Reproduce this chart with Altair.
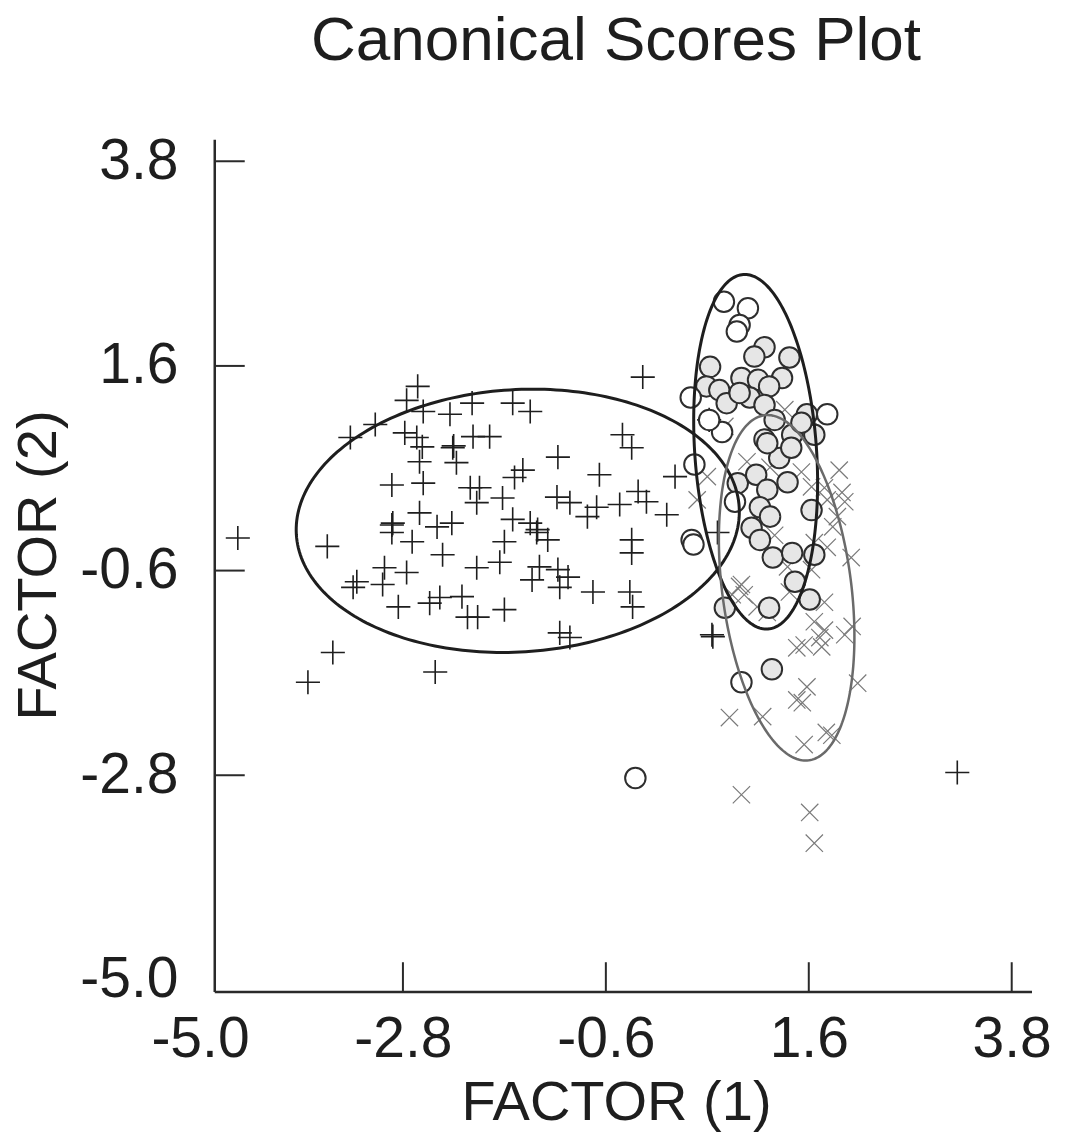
import altair as alt
import numpy as np
import pandas as pd

FONT = "Liberation Sans"
INK = "#1e1e1e"

# ---- data ----
TICKS = [-5.0, -2.8, -0.6, 1.6, 3.8]
INNER_TICKS = [-2.8, -0.6, 1.6, 3.8]

plus_x = [-2.64, -2.76, -2.58, -2.29, -2.05, -3.10, -3.37, -2.78, -2.65, -2.59,
          -2.26, -2.22, -2.62, -2.04, -2.92, -2.58, -2.07, -2.00, -2.62, -2.92,
          -2.92, -2.43, -2.27, -2.70, -3.62, -2.37, -2.00, -3.00, -2.76, -3.30,
          -3.34, -3.02, -2.85, -2.51, -2.40, -2.16, -2.10, -1.99, -4.59, -3.56,
          -3.83, -2.45, -0.20, -1.61, -1.42, -1.86, -0.42, -0.32, -1.12, -1.59,
          -1.50, -0.67, 0.15, -1.97, -1.72, -1.13, -0.99, -0.80, -0.70, -0.45,
          -0.25, -0.16, 0.06, -1.61, -1.42, -1.35, -1.23, -1.70, -0.32, -0.32,
          -1.75, -1.32, -1.40, -1.12, -1.01, -1.10, -0.74, -0.34, -0.31, -1.70,
          -1.10, -0.99, 0.55, 0.52, 0.61, 3.21, -2.25, -2.91, -1.34, 0.56]
plus_y = [1.38, 1.23, 1.11, 1.08, 1.20, 0.97, 0.83, 0.88, 0.83, 0.73,
          0.72, 0.56, 0.57, 0.84, 0.32, 0.34, 0.29, 0.13, 0.02, -0.11,
          -0.19, -0.13, -0.09, -0.29, -0.34, -0.43, -0.57, -0.57, -0.62, -0.72,
          -0.78, -0.75, -0.99, -0.95, -0.89, -0.88, -1.10, -1.10, -0.25, -1.48,
          -1.80, -1.69, 1.48, 1.20, 1.11, 0.84, 0.86, 0.72, 0.62, 0.40,
          0.48, 0.43, 0.41, 0.29, 0.18, 0.19, 0.13, -0.02, 0.08, 0.11,
          0.25, 0.14, 0.00, -0.05, -0.09, -0.19, -0.27, -0.29, -0.27, -0.41,
          -0.51, -0.56, -0.70, -0.59, -0.67, -0.78, -0.83, -0.83, -0.99, -1.02,
          -1.27, -1.32, -1.29, 1.02, -0.19, -2.77, 0.74, -0.09, -0.16, -1.31]

circ_x = [1.12, 1.01, 1.39, 0.53, 0.87, 1.05, 1.31, 0.49, 0.63, 1.17,
          0.96, 0.71, 1.12, 0.85, 1.23, 1.58, 1.12, 1.42, 1.66, 1.52,
          1.28, 1.41, 1.15, 0.83, 1.03, 1.15, 1.37, 1.63, 1.07, 1.18,
          0.98, 1.07, 1.21, 1.42, 1.66, 1.45, 1.61, 0.69, 1.17, 1.20]
circ_y = [1.80, 1.70, 1.69, 1.59, 1.47, 1.45, 1.47, 1.38, 1.34, 1.38,
          1.26, 1.20, 1.18, 1.31, 1.02, 1.08, 0.81, 0.86, 0.86, 0.99,
          0.61, 0.72, 0.77, 0.34, 0.43, 0.27, 0.35, 0.05, 0.08, -0.02,
          -0.14, -0.27, -0.46, -0.41, -0.43, -0.72, -0.91, -1.00, -1.00, -1.66]

open_x = [0.68, 0.94, 0.85, 0.82, 0.32, 1.80, 0.66, 0.52, 0.36, 0.80, 0.33, 0.35, 0.87, -0.28]
open_y = [2.29, 2.22, 2.04, 1.97, 1.26, 1.08, 0.89, 1.02, 0.54, 0.14, -0.27, -0.32, -1.80, -2.83]

cross_x = [0.85, 0.90, 1.04, 1.15, 1.39, 1.77, 1.66, 1.77, 1.47, 1.55,
           1.74, 1.72, 1.99, 2.07, 2.13, 1.58, 1.47, 1.53, 0.74, 1.10,
           1.55, 1.85, 1.79, 0.87, 1.61, 1.66, 0.50, 0.39, 0.93, 1.52,
           1.63, 1.77, 1.96, 1.80, 1.99, 1.91, 1.86, 2.06, 1.23, 1.66,
           1.80, 1.37, 1.63, 0.87, 0.77, 1.34, 0.69, 1.59, 1.93, 1.18]
cross_y = [-0.77, -0.86, -0.99, -1.05, -0.83, -0.94, -1.15, -1.24, -1.43, -1.40,
           -1.42, -1.32, -1.29, -1.20, -1.81, -1.85, -1.99, -2.02, -2.18, -2.17,
           -2.47, -2.37, -2.34, -3.01, -3.20, -3.53, 0.41, 0.16, 0.57, 0.46,
           0.30, 0.29, 0.24, 0.16, 0.14, -0.02, -0.13, -0.46, -0.22, -0.30,
           -0.35, -0.56, -0.59, -0.75, -0.86, 1.13, 0.95, 0.89, 0.48, 0.51]

# ellipses: centre x, centre y, semi-axis x, semi-axis y, rotation (deg)
ell_cx = [-1.555, 1.024, 1.36]
ell_cy = [-0.065, 0.677, -0.785]
ell_rx = [2.405, 0.66, 0.70]
ell_ry = [1.41, 1.91, 1.87]
ell_rot = [3.5, 4.0, 7.4]

# axis frame position (data units)
X_MIN, X_MAX = -5.0, 4.02
Y_MIN, Y_MAX = -5.13, 4.05
AXIS_X0 = -4.84
AXIS_Y_TOP = 4.03
TICK_LEN_X = 0.325
TICK_LEN_Y = 0.32

# ---- tables ----
df_plus = pd.DataFrame({"x": plus_x, "y": plus_y})
df_circ = pd.DataFrame({"x": circ_x, "y": circ_y})
df_open = pd.DataFrame({"x": open_x, "y": open_y})
df_cross = pd.DataFrame({"x": cross_x, "y": cross_y})


def ellipse_df(i):
    t = np.linspace(0, 2 * np.pi, 241)
    th = np.deg2rad(ell_rot[i])
    ex = ell_rx[i] * np.cos(t)
    ey = ell_ry[i] * np.sin(t)
    return pd.DataFrame({
        "x": ell_cx[i] + ex * np.cos(th) - ey * np.sin(th),
        "y": ell_cy[i] + ex * np.sin(th) + ey * np.cos(th),
        "i": np.arange(len(t)),
    })


xs = alt.Scale(domain=[X_MIN, X_MAX], nice=False, zero=False)
ys = alt.Scale(domain=[Y_MIN, Y_MAX], nice=False, zero=False)

label_expr = ("datum.value < 0 ? '-' + format(-datum.value, '.1f') "
              ": format(datum.value, '.1f')")

x_axis = alt.Axis(values=TICKS, labelExpr=label_expr, domain=False, ticks=False,
                  grid=False, labelFont=FONT, labelFontSize=57,
                  labelColor=INK, labelPadding=19, labelFlush=False,
                  labelOverlap=False, title="FACTOR (1)", titleFont=FONT,
                  titleFontSize=56, titleFontWeight="normal", titleColor=INK,
                  titlePadding=8)
y_axis = alt.Axis(values=TICKS, labelExpr=label_expr, domain=False, ticks=False,
                  grid=False, labelFont=FONT, labelFontSize=57,
                  labelColor=INK, labelPadding=22, labelFlush=False,
                  labelOverlap=False, title="FACTOR (2)", titleFont=FONT,
                  titleFontSize=56, titleFontWeight="normal", titleColor=INK,
                  titlePadding=12)


def X(field="x"):
    return alt.X(field, type="quantitative", scale=xs, axis=x_axis)


def Y(field="y"):
    return alt.Y(field, type="quantitative", scale=ys, axis=y_axis)


plus_layer = alt.Chart(df_plus).mark_point(
    shape="M-1,0H1M0,-1V1", size=580, filled=False, stroke=INK,
    strokeWidth=1.6, opacity=1
).encode(x=X(), y=Y())

cross_layer = alt.Chart(df_cross).mark_point(
    shape="M-1,-1L1,1M-1,1L1,-1", size=300, filled=False, stroke="#7a7a7a",
    strokeWidth=1.2, opacity=1
).encode(x=X(), y=Y())

circ_layer = alt.Chart(df_circ).mark_point(
    shape="circle", size=420, filled=True, fill="#e6e6e6", stroke="#2e2e2e",
    strokeWidth=2, opacity=1
).encode(x=X(), y=Y())

open_layer = alt.Chart(df_open).mark_point(
    shape="circle", size=420, filled=True, fill="#ffffff", stroke="#2e2e2e",
    strokeWidth=2, opacity=1
).encode(x=X(), y=Y())

ell_styles = [("#1e1e1e", 3), ("#1e1e1e", 3), ("#6a6a6a", 2.5)]
ell_layers = []
for k in range(3):
    col, w = ell_styles[k]
    ell_layers.append(
        alt.Chart(ellipse_df(k)).mark_line(color=col, strokeWidth=w)
        .encode(x=X(), y=Y(), order="i:Q")
    )

# axis frame lines and inward ticks
frame_v = pd.DataFrame({"x": [AXIS_X0], "y": [Y_MIN], "y2": [AXIS_Y_TOP]})
frame_h = pd.DataFrame({"x": [AXIS_X0], "x2": [X_MAX], "y": [Y_MIN]})
tick_x = pd.DataFrame({"x": INNER_TICKS, "y": [Y_MIN] * 4, "y2": [Y_MIN + TICK_LEN_Y] * 4})
tick_y = pd.DataFrame({"y": INNER_TICKS, "x": [AXIS_X0] * 4, "x2": [AXIS_X0 + TICK_LEN_X] * 4})

vline = alt.Chart(frame_v).mark_rule(color="#2a2a2a", strokeWidth=2.5).encode(
    x=X(), y=Y(), y2="y2:Q")
hline = alt.Chart(frame_h).mark_rule(color="#2a2a2a", strokeWidth=2.5).encode(
    x=X(), x2="x2:Q", y=Y())
txl = alt.Chart(tick_x).mark_rule(color="#2a2a2a", strokeWidth=2).encode(
    x=X(), y=Y(), y2="y2:Q")
tyl = alt.Chart(tick_y).mark_rule(color="#2a2a2a", strokeWidth=2).encode(
    x=X(), x2="x2:Q", y=Y())

chart = alt.layer(
    plus_layer, cross_layer, circ_layer, open_layer, *ell_layers,
    vline, hline, txl, tyl
).properties(
    width=832,
    height=854,
    autosize=alt.AutoSizeParams(type="none"),
    padding={"left": 200, "top": 138, "right": 38, "bottom": 147},
    title=alt.TitleParams("Canonical Scores Plot", font=FONT, fontSize=62,
                          fontWeight="normal", color=INK, anchor="middle",
                          frame="group", offset=59),
    background="white",
).configure_view(stroke=None)

chart.save("out.html", embed_options={"renderer": "svg", "actions": False})
